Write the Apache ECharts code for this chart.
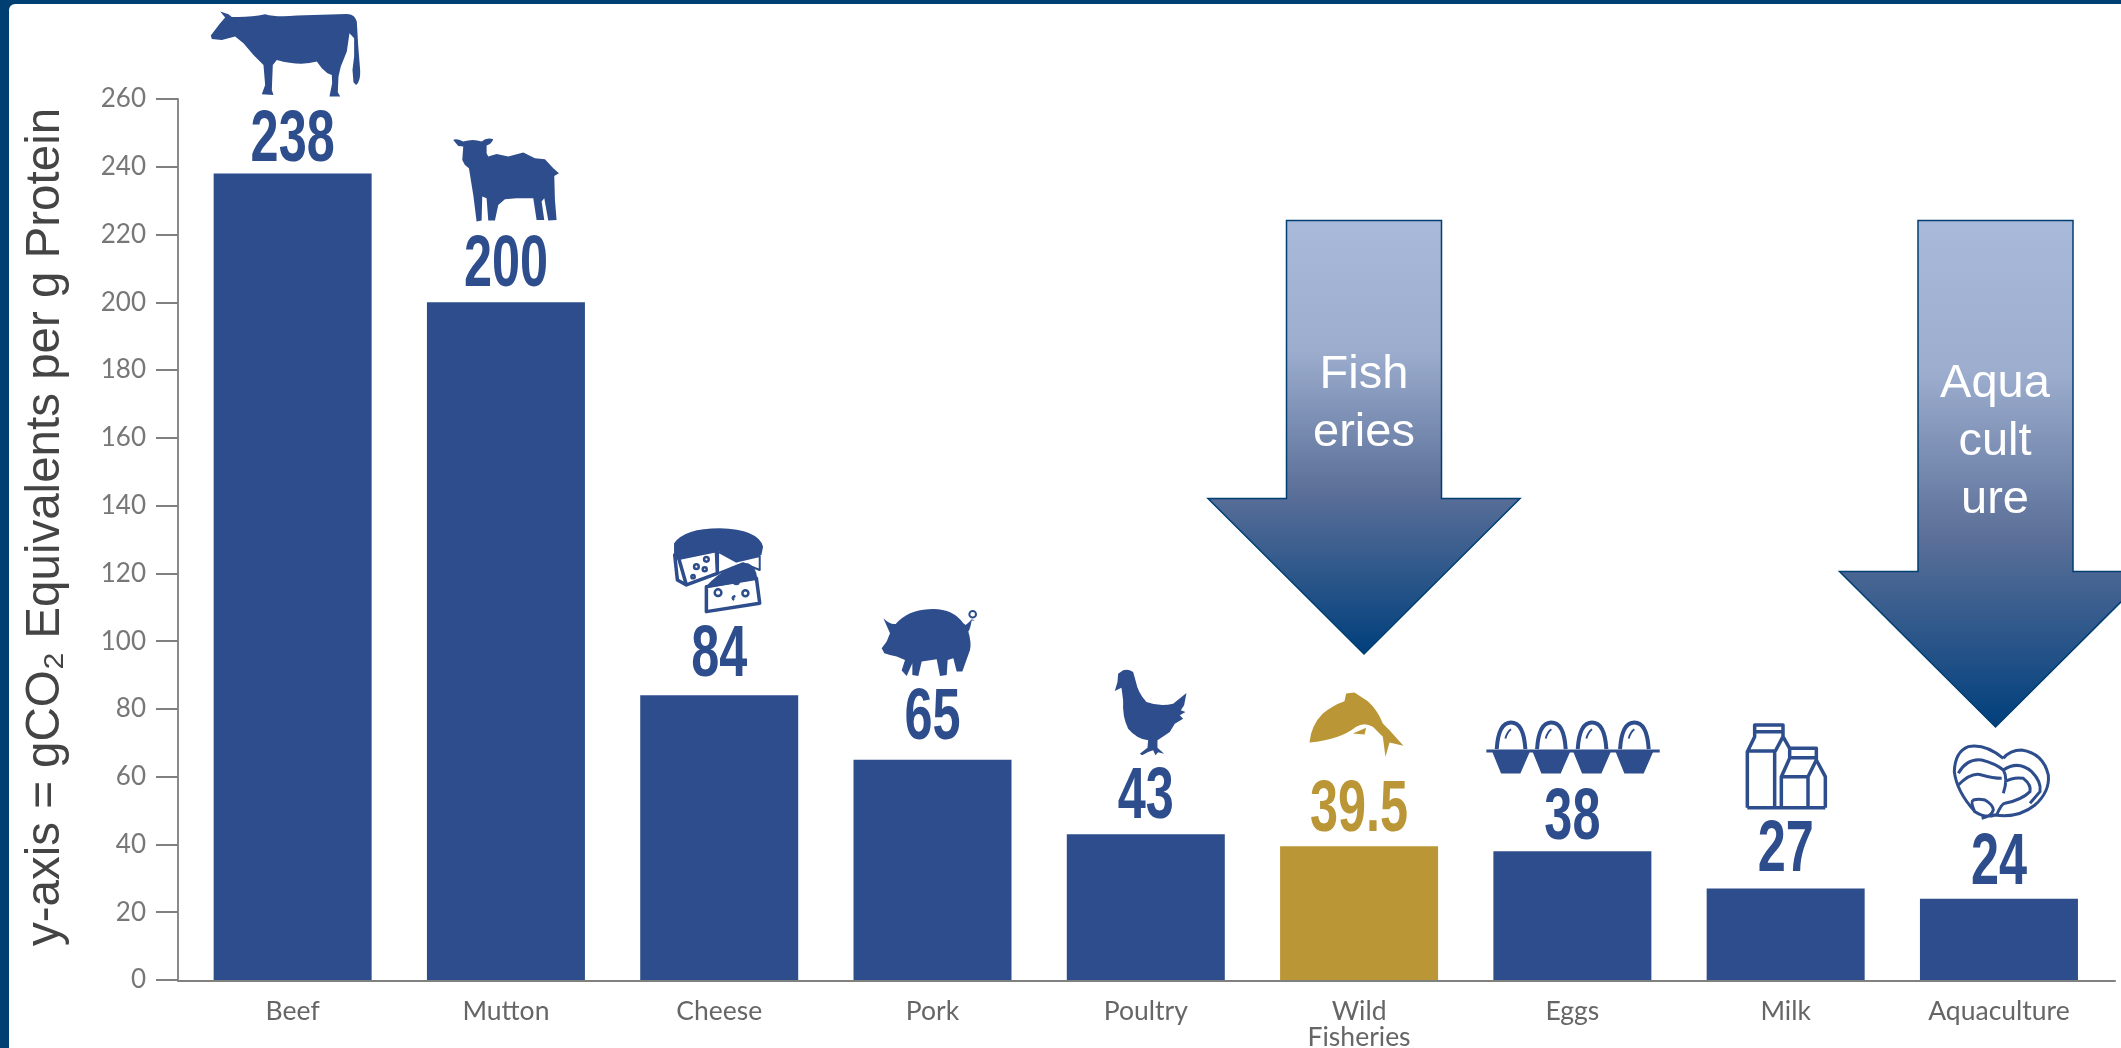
<!DOCTYPE html>
<html>
<head>
<meta charset="utf-8">
<style>html,body{margin:0;padding:0;background:#fff}#main{width:2121px;height:1048px}</style>
<script src="https://cdn.jsdelivr.net/npm/echarts@6/dist/echarts.min.js"></script>
</head>
<body>
<div id="main"></div>
<script>
// Greenhouse gas intensity of protein sources
const categories = ['Beef', 'Mutton', 'Cheese', 'Pork', 'Poultry', 'Wild\nFisheries', 'Eggs', 'Milk', 'Aquaculture'];
const values = [238, 200, 84, 65, 43, 39.5, 38, 27, 24];
const valueLabels = ['238', '200', '84', '65', '43', '39.5', '38', '27', '24'];
const highlighted = 'Wild\nFisheries';

const BLUE = '#2e4d8c';
const GOLD = '#ba9636';
const FRAME = '#003f72';

// Distance from the top of a bar up to the bottom of its number
const labelLift = [11.6, 15, 18, 20, 15, 14, 11, 16, 14];

const ring = (cx, cy, r) => `M${cx - r} ${cy}A${r} ${r} 0 1 1 ${cx + r} ${cy}A${r} ${r} 0 1 1 ${cx - r} ${cy}Z`;
const eggCentres = [92, 213, 335, 462];

// Pictograms: drawn on a 3x grid, then placed relative to the bar top
const icons = [
  { w: 510, h: 300, dx: -92.5, lift: 168.6, layers: [
    { d: 'M60 20L85 28L95 36Q150 38 195 28Q230 38 290 32L440 27Q465 28 470 50L474 120L480 195Q482 228 468 240L460 232L457 195L462 155L462 100L448 85L440 140L422 185L415 215L413 262L420 275L388 275L396 235L395 210L382 205L365 190L350 170Q300 185 230 165L218 180L215 255L220 270L185 268L195 240L190 180L160 150L130 115L105 95L65 105L35 102L32 92L60 55L75 38Z' }
  ]},
  { w: 375, h: 300, dx: -61, lift: 172.4, layers: [
    { d: 'M25 30Q35 25 55 35Q85 25 110 35Q125 22 145 28Q140 42 125 47L125 70L130 80L155 72L190 80L235 68L270 85L300 88L325 115L342 130L328 138L330 210L335 270L310 272L298 205L290 215L298 270L275 270L265 205L215 205L180 208L160 225L150 272L130 272L125 205L112 200L110 272L95 275L85 195L72 115L60 105L52 90L55 50L40 48Z' }
  ]},
  { w: 330, h: 300, dx: -54.5, lift: 175.4, layers: [
    { d: 'M28 70Q60 25 165 25Q280 28 295 80L290 105L215 125L160 92L40 115L28 100Z' },
    { d: 'M30 105L38 180L65 195L158 160L155 92L42 115Z', fill: '#fff', stroke: BLUE, lw: 3.5 },
    { d: 'M42 115L65 195', fill: 'none', stroke: BLUE, lw: 3.5 },
    { d: 'M160 95L215 125L285 108L285 150L235 130L160 160Z', fill: '#fff', stroke: BLUE, lw: 2 },
    { d: 'M125 200L275 175L285 250L125 275Z', fill: '#fff', stroke: BLUE, lw: 3.5 },
    { d: 'M125 198Q190 130 250 130Q275 140 278 178L125 205Z' },
    { d: ring(95, 140, 7) + ring(125, 118, 7) + ring(120, 148, 6) + ring(85, 170, 5), fill: 'none', stroke: BLUE, lw: 2.5 },
    { d: ring(215, 185, 7) + ring(160, 218, 10) + ring(242, 220, 9) + 'M212 228Q198 232 208 240', fill: 'none', stroke: BLUE, lw: 2.5 }
  ]},
  { w: 345, h: 240, dx: -57.5, lift: 159.8, layers: [
    { d: 'M25 55Q45 75 62 72Q100 30 160 28Q230 22 265 70L272 75Q285 65 290 58L300 62L290 62Q285 90 280 95Q290 130 285 150L262 215L245 215L235 175L218 180L215 225L195 228L185 178L140 185L130 228L112 225L112 190L95 228L80 212L90 180L65 170L45 165L28 160L20 145L35 125L45 100Z' },
    { d: ring(293, 43, 10), fill: '#fff', stroke: BLUE, lw: 2 }
  ]},
  { w: 270, h: 300, dx: -41, lift: 174, layers: [
    { d: 'M55 30Q70 25 85 35L92 60Q100 100 125 125Q165 140 205 130L245 98L238 135L228 150L242 155L225 165L235 175L210 190L195 215L165 235L158 240L158 262L178 280L160 276L152 285L145 270L130 275L112 285L105 280L128 262L130 240Q95 235 70 205Q52 170 55 120L50 82L30 92L38 65L40 40Z' }
  ]},
  { w: 345, h: 240, dx: -59.6, lift: 161, color: GOLD, layers: [
    { d: 'M30 172Q35 120 70 85Q100 60 135 48L140 25L165 22L205 48Q235 75 250 115L270 135L312 182L270 172L258 215L250 155L220 125Q195 110 170 125Q120 165 30 172Z' },
    { d: 'M160 145L200 128L195 148Z' }
  ]},
  { w: 570, h: 210, dx: -92, lift: 136, layers: [
    { d: 'M18 103L538 103L538 112L18 112Z' },
    { d: eggCentres.map(c => `M${c - 57} 108L${c + 57} 108L${c + 28} 175L${c - 30} 175Z`).join('') },
    { d: eggCentres.map(c => `M${c - 43} 102Q${c - 38} 22 ${c} 22Q${c + 38} 22 ${c + 43} 102`).join(''), fill: 'none', stroke: BLUE, lw: 4 },
    { d: eggCentres.map(c => `M${c - 17} 70Q${c - 12} 50 ${c} 42`).join(''), fill: 'none', stroke: BLUE, lw: 2 }
  ]},
  { w: 345, h: 330, dx: -51, lift: 173.5, layers: [
    { d: 'M38 278L38 110L60 65L60 30L145 30L145 65L165 100M60 50L145 50M38 108L122 108L145 65M120 108L120 278M38 278L272 278M140 278L140 185L165 130L165 100L245 100L245 135L272 185L272 278M165 128L245 128M140 185L220 185L245 135M220 185L220 278', fill: 'none', stroke: BLUE, lw: 3.5 }
  ]},
  { w: 355, h: 270, dx: -57.3, lift: 163.7, layers: [
    { d: 'M185 70Q130 25 80 35Q40 50 38 110Q45 170 100 230Q130 250 160 240Q230 250 280 210Q325 170 320 120Q305 55 240 45Q205 45 185 70M50 115Q75 70 120 75Q160 85 185 105M50 150Q90 110 120 120Q155 130 180 130M100 232Q85 200 95 195Q110 190 130 195Q155 210 155 225Q150 245 120 250M185 105Q200 130 185 175M185 105Q230 75 270 110Q300 140 295 170L265 205M190 140Q215 125 245 130Q270 150 265 170Q240 195 190 205Q180 205 165 240', fill: 'none', stroke: BLUE, lw: 3 }
  ]}
];

// Number and pictogram above each bar, anchored to the bar's value
function renderAnnotation(params, api) {
  const i = api.value(0);
  const top = api.coord([i, api.value(1)]);
  const color = categories[i] === highlighted ? GOLD : BLUE;
  const icon = icons[i];
  const children = [{
    type: 'text',
    x: top[0],
    y: top[1] - labelLift[i] - 21,
    scaleX: 0.7,
    style: {
      text: valueLabels[i],
      fill: color,
      font: "bold 72px 'Liberation Sans', sans-serif",
      textAlign: 'center',
      textVerticalAlign: 'middle'
    }
  }];
  icon.layers.forEach(layer => {
    const pathData = `M0 0L0 0M${icon.w} ${icon.h}L${icon.w} ${icon.h}` + layer.d;
    children.push({
      type: 'path',
      shape: {
        pathData,
        x: top[0] + icon.dx,
        y: top[1] - icon.lift,
        width: icon.w / 3,
        height: icon.h / 3,
        layout: 'cover'
      },
      style: {
        fill: layer.fill || color,
        stroke: layer.stroke || null,
        lineWidth: layer.lw || 0,
        lineJoin: 'round'
      }
    });
  });
  return { type: 'group', children };
}

// Down arrows flagging the two seafood sources
function downArrow(cx, halfShaft, halfHead, top, shoulder, tip) {
  return {
    type: 'polygon',
    z: 20,
    shape: { points: [
      [cx - halfShaft, top], [cx + halfShaft, top], [cx + halfShaft, shoulder],
      [cx + halfHead, shoulder], [cx, tip], [cx - halfHead, shoulder], [cx - halfShaft, shoulder]
    ] },
    style: {
      fill: new echarts.graphic.LinearGradient(0, 0, 0, 1, [
        { offset: 0, color: '#a9b9d9' },
        { offset: 0.3, color: '#9cadce' },
        { offset: 0.62, color: '#5c7099' },
        { offset: 1, color: '#003f7c' }
      ]),
      stroke: FRAME,
      lineWidth: 1.5
    }
  };
}

function arrowText(text, x, y) {
  return {
    type: 'text', z: 21, x, y,
    style: {
      text, fill: '#fff', align: 'center', verticalAlign: 'middle',
      font: "47px 'Liberation Sans', Arial, sans-serif", lineHeight: 58
    }
  };
}

const chart = echarts.init(document.getElementById('main'), null, { renderer: 'canvas' });
chart.setOption({
  animation: false,
  backgroundColor: FRAME,
  graphic: { elements: [
    { type: 'rect', z: -10, silent: true, shape: { x: 9, y: 4, width: 2112, height: 1044, r: [6, 0, 0, 0] }, style: { fill: '#fff' } },
    downArrow(1364, 77.5, 156, 220.5, 498.5, 654),
    downArrow(1995.5, 77.5, 156, 220.5, 571.5, 727),
    arrowText('Fish\neries', 1364, 404),
    arrowText('Aqua\ncult\nure', 1995, 442)
  ] },
  grid: [
    { left: 186, right: 15.4, top: 99, bottom: 68, outerBoundsMode: 'none' },
    { left: 178, right: 6, top: 99, bottom: 67, outerBoundsMode: 'none' }
  ],
  xAxis: [
    {
      type: 'category',
      data: categories,
      axisLine: { show: false },
      axisTick: { show: false },
      axisLabel: {
        color: '#666',
        fontFamily: 'Lato',
        fontSize: 26.5,
        lineHeight: 26,
        margin: 18,
        interval: 0
      }
    },
    {
      // Baseline running the full width from the value axis
      gridIndex: 1,
      type: 'value',
      min: 0,
      max: 1,
      axisLine: { show: true, lineStyle: { color: '#808080', width: 2 } },
      axisTick: { show: false },
      axisLabel: { show: false },
      splitLine: { show: false }
    }
  ],
  yAxis: [
    {
      type: 'value',
      min: 0,
      max: 260,
      interval: 20,
      offset: 8,
      name: 'y-axis = gCO₂ Equivalents per g Protein',
      nameLocation: 'middle',
      nameRotate: 90,
      nameGap: 108,
      nameTextStyle: {
        color: '#444',
        fontFamily: "'Liberation Sans', Arial, sans-serif",
        fontSize: 47.5,
        padding: [0, 0, 0, 25]
      },
      axisLine: { show: true, lineStyle: { color: '#8a8a8a', width: 2 } },
      axisTick: { show: true, length: 22, lineStyle: { color: '#808080', width: 2 } },
      axisLabel: { color: '#777', fontFamily: 'Lato', fontSize: 26, margin: 32 },
      splitLine: { show: false }
    },
    { gridIndex: 1, type: 'value', show: false, min: 0, max: 1 }
  ],
  series: [
    {
      type: 'bar',
      barWidth: 158,
      data: values.map((v, i) => ({
        value: v,
        itemStyle: { color: categories[i] === highlighted ? GOLD : BLUE }
      }))
    },
    {
      type: 'custom',
      renderItem: renderAnnotation,
      encode: { x: 0, y: 1 },
      data: values.map((v, i) => [i, v]),
      z: 10
    }
  ]
});
</script>
</body>
</html>
